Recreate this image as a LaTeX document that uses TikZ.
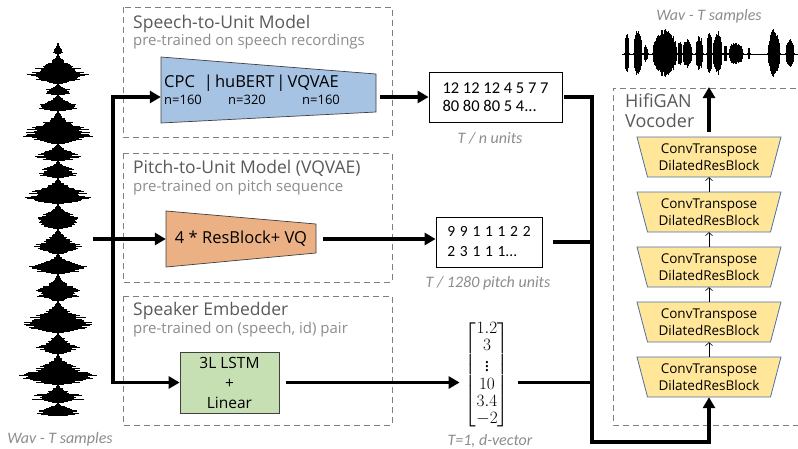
\documentclass[tikz,border=0pt]{standalone}
\usepackage{fontspec}
\usepackage{amsmath}
\setmainfont{Open Sans}
\newfontfamily\calfont{Carlito}
\usetikzlibrary{arrows.meta,calc}

\definecolor{titlegray}{HTML}{595959}
\definecolor{subgray}{HTML}{8C8C8C}
\definecolor{framegray}{HTML}{7F7F7F}
\definecolor{unitblue}{HTML}{A7C3E3}
\definecolor{pitchorange}{HTML}{EBB185}
\definecolor{lstmgreen}{HTML}{C6E0B4}
\definecolor{blockyellow}{HTML}{FFE699}
\definecolor{blockedge}{HTML}{4F6FA8}

\newcommand\widesp{\spaceskip 4.7pt\relax}

\begin{document}
\begin{tikzpicture}[x = 1pt, y = -1pt,
	> = {Triangle[length = 11pt, width = 12pt]},
	dashbox/.style = {draw = framegray, dash pattern = on 6pt off 4pt, line width = 0.8pt},
	title/.style = {anchor = base west, inner sep = 0pt, text = titlegray, font = \fontsize{17.5}{21}\selectfont},
	subtitle/.style = {anchor = base west, inner sep = 0pt, text = subgray, font = \fontsize{15}{18}\selectfont},
	caption/.style = {anchor = base, inner sep = 0pt, text = subgray, font = \calfont\itshape\fontsize{16}{19}\selectfont},
	bigline/.style = {line width = 3.6pt, line cap = rect},
	bigarrow/.style = {bigline, ->},
	thinarrow/.style = {line width = 0.6pt, -{Straight Barb[length = 3pt, width = 7pt]}},
	unitbox/.style = {draw, line width = 0.8pt, inner sep = 0pt},
	trapedge/.style = {draw = black!75, line width = 0.7pt}]

	% Definitions

	\def\wavX{58}		% Centre line of input wave
	\def\wavY{54}		% Centre line of output wave
	\def\vocX{709}		% Centre line of vocoder stack
	\def\busX{592}		% Vertical bus into vocoder

	\useasboundingbox (0,0) rectangle (798,448);

	% Input waveform

	\pgfmathsetseed{11}
	\draw [line width = 0.6pt] (\wavX,43) -- (\wavX,416);
	\foreach \bs/\be/\ba in {43/53/5, 53/83/33, 83/94/16, 94/110/24, 110/143/39, 143/160/24, 160/177/22, 177/203/36, 203/228/26, 228/253/23, 253/273/31, 273/300/24, 300/332/38, 332/353/24, 353/384/39, 384/402/27, 402/415/22} {
		\foreach \wy in {\bs,...,\be} {
			\pgfmathsetmacro\ph{(\wy - \bs) / (\be - \bs + 1)}
			\pgfmathsetmacro\wa{1 + \ba * sin(180 * \ph * \ph) * (0.55 + 0.45 * rnd)}
			\fill (\wavX - \wa, \wy) rectangle (\wavX + \wa, \wy + 1.1);
		}
	}

	% Output waveform

	\draw [line width = 0.5pt] (622,\wavY) -- (798,\wavY);
	\foreach \bs/\be/\ba in {624/629/24, 633/642/25, 643/648/8, 652/677/26, 677/682/14, 682/692/15, 695/703/18, 706/712/27, 712/722/25, 723/727/10, 728/743/12, 747/750/6, 767/780/25, 785/794/15} {
		\foreach \wx in {\bs,...,\be} {
			\pgfmathsetmacro\wa{0.8 + \ba * sqrt(sin(180 * (\wx - \bs) / (\be - \bs))) * (0.7 + 0.3 * rnd)}
			\fill (\wx, \wavY - \wa) rectangle (\wx + 1.1, \wavY + 0.9 * \wa);
		}
	}

	% Dashed frames

	\draw [dashbox] (123,7) rectangle (392,137);
	\draw [dashbox] (123,153) rectangle (392,282);
	\draw [dashbox] (123,296) rectangle (392,425);
	\draw [dashbox] (806,88) -- (613,88) -- (613,425) -- (806,425);

	\node [title] (s2utitle) at (133,28) {Speech-to-Unit Model};
	\node [subtitle] (s2usub) at (133,45) {pre-trained on speech recordings};
	\node [title] (p2utitle) at (133,173) {Pitch-to-Unit Model (VQVAE)};
	\node [subtitle] (p2usub) at (133,191) {pre-trained on pitch sequence};
	\node [title] (s2etitle) at (133,315) {Speaker Embedder};
	\node [subtitle] (s2esub) at (133,333) {pre-trained on (speech, id) pair};
	\node [title, font = \fontsize{18}{21}\selectfont] (voctitle) at (625,107) {HifiGAN};
	\node [title, font = \fontsize{18}{21}\selectfont] (vocsub) at (625,127) {Vocoder};

	% Speech-to-unit encoder

	\filldraw [trapedge, fill = unitblue] (161,57) -- (376,74) -- (376,112) -- (161,123) -- cycle;
	\node [minimum width = 215pt, minimum height = 66pt, inner sep = 0pt] (s2u) at (268.5,90) {};
	\node [anchor = base west, inner sep = 0pt, font = \fontsize{16.5}{19}\selectfont] (s2unames) at (164,87) {CPC\hspace{9pt}|\hspace{2pt}huBERT\hspace{2pt}|\hspace{2pt}VQVAE};
	\node [anchor = base west, inner sep = 0pt, font = \fontsize{13}{15}\selectfont] (ncpc) at (164,104) {n=160};
	\node [anchor = base west, inner sep = 0pt, font = \fontsize{13}{15}\selectfont] (nhub) at (228,104) {n=320};
	\node [anchor = base west, inner sep = 0pt, font = \fontsize{13}{15}\selectfont] (nvq) at (302,104) {n=160};

	% Pitch-to-unit encoder

	\filldraw [trapedge, fill = pitchorange] (166,211) -- (316,224) -- (316,253) -- (166,267) -- cycle;
	\node [minimum width = 150pt, minimum height = 56pt, inner sep = 0pt, font = \fontsize{16.5}{19}\selectfont] (p2u) at (241,239) {4 * ResBlock+ VQ};

	% Speaker embedder

	\node [trapedge, fill = lstmgreen, minimum width = 99pt, minimum height = 61pt, inner sep = 0pt, align = center, font = \fontsize{15.5}{20}\selectfont] (s2e) at (229.5,382.5) {3L LSTM\\+\\Linear};

	% Unit sequences

	\node [unitbox, minimum width = 133pt, minimum height = 50pt, align = left, font = \calfont\fontsize{16.5}{18.5}\selectfont] (units) at (495.5,97) {12 12 12 4 5 7 7\\80 80 80 5 4...};
	\node [caption] (unitscap) at (490,143) {T / n units};

	\node [unitbox, minimum width = 106pt, minimum height = 50pt, align = left, font = {\calfont\fontsize{15.5}{20}\selectfont\widesp}] (pitch) at (489,242) {9 9 1 1 1 2 2\\2 3 1 1 1...};
	\node [caption] (pitchcap) at (488,287) {T / 1280 pitch units};

	\node [inner sep = 0pt, font = \fontsize{18}{19}\selectfont] (dvec) at (487,375) {\renewcommand\arraystretch{0.9}$\left[\begin{matrix}1.2\\3\\\vdots\\10\\3.4\\-2\end{matrix}\right]$};
	\node [caption] (dveccap) at (490,445) {T=1, d-vector};

	\node [caption] (wavincap) at (60,443) {Wav - T samples};
	\node [caption] (wavoutcap) at (\vocX,20) {Wav - T samples};

	% Vocoder stack

	\foreach \i in {1,...,5} {
		\pgfmathsetmacro\yc{377 - 55 * (\i - 1)}
		\filldraw [draw = blockedge, fill = blockyellow, line width = 0.8pt] (\vocX - 72,\yc - 20) -- (\vocX + 72,\yc - 20) -- (\vocX + 61.5,\yc + 20) -- (\vocX - 61.5,\yc + 20) -- cycle;
		\node [minimum width = 123pt, minimum height = 40pt, inner sep = 0pt, align = center, font = \fontsize{13.5}{17}\selectfont] (blk\i) at (\vocX,\yc) {ConvTranspose\\DilatedResBlock};
	}
	\foreach \i/\j in {1/2, 2/3, 3/4, 4/5}
		\draw [thinarrow] (blk\i.north) -- (blk\j.south);

	% Connectors

	\coordinate (wavin) at (95,239);
	\coordinate (trunktop) at (113,97);
	\coordinate (trunkbot) at (113,382.5);
	\coordinate (busbot) at (\busX,442);
	\coordinate (wavout) at (\vocX,87);

	\draw [bigarrow] (wavin) -- (p2u.west);
	\draw [bigarrow] (trunkbot) -- (trunktop) -- (trunktop -| s2u.west);
	\draw [bigarrow] (trunkbot) -- (s2e.west);

	\draw [bigarrow, shorten < = 6pt] (s2u.east |- units.west) -- (units.west);
	\draw [bigarrow, shorten < = 9pt] (p2u.east) -- (p2u.east -| pitch.west);
	\draw [bigarrow, shorten < = 8pt, shorten > = 5pt] (s2e.east) -- (s2e.east -| dvec.west);

	\draw [bigarrow, shorten < = 3pt] (units.east) -| (busbot) -| (blk1.south);
	\draw [bigline, shorten < = 12pt] (pitch.east) -- (pitch.east -| busbot);
	\draw [bigline, shorten < = 10pt] (s2e.east -| dvec.east) -- (s2e.east -| busbot);

	\draw [bigarrow, shorten < = 7pt] (blk5.north) -- (wavout);

\end{tikzpicture}
\end{document}
